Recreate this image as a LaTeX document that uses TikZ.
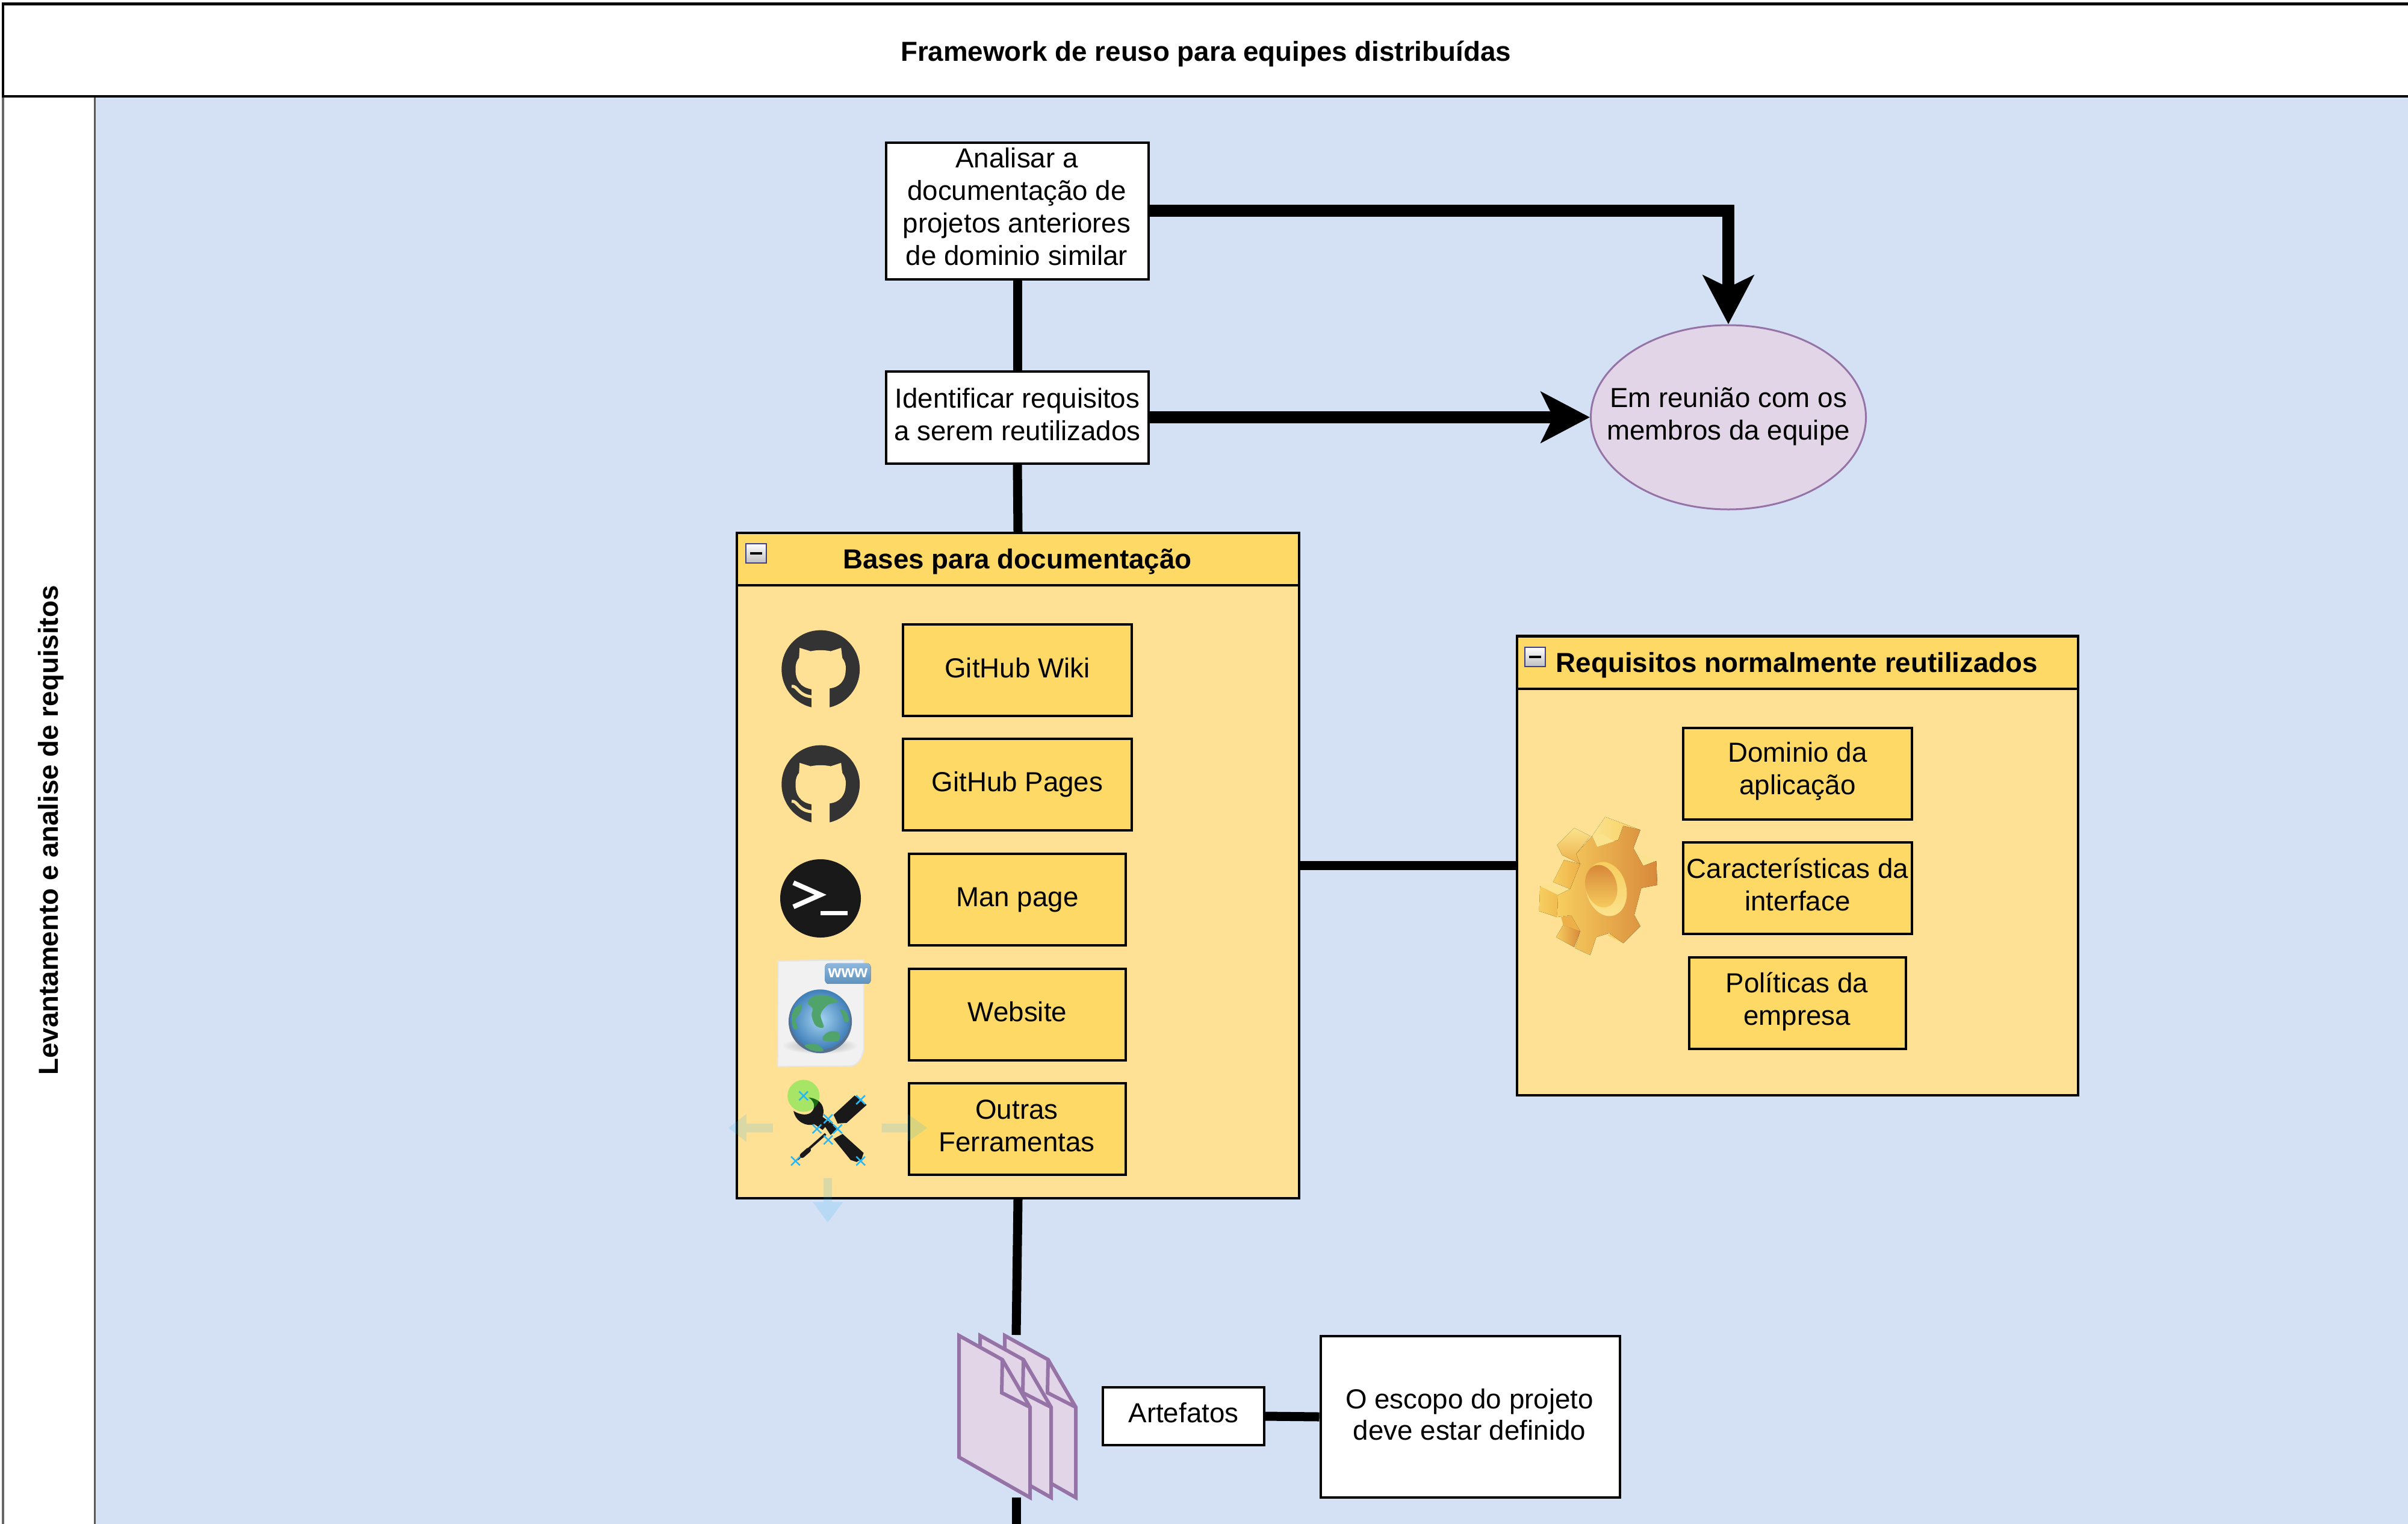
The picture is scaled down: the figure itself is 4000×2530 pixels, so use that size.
\documentclass[tikz,border=0pt]{standalone}
\usepackage{fontspec}
\setmainfont{Liberation Sans}
\usetikzlibrary{arrows.meta,shapes.geometric}
\definecolor{lanebg}{HTML}{D4E1F5}
\definecolor{panelbody}{HTML}{FFE196}
\definecolor{panelhead}{HTML}{FFD966}
\definecolor{purplefill}{HTML}{E1D5E7}
\definecolor{purpleline}{HTML}{9673A6}
\definecolor{handleblue}{HTML}{29B6F2}
\definecolor{rotgreen}{RGB}{26,237,26}
\definecolor{octo}{HTML}{333333}
\definecolor{gearlight}{HTML}{FBE38E}
\definecolor{gearmid}{HTML}{F7CE5F}
\definecolor{geardeep}{HTML}{EDB048}
\definecolor{geardark}{HTML}{D8893A}
\definecolor{gearring}{HTML}{FBE59C}
\definecolor{globein}{HTML}{A5D4F2}
\definecolor{globeout}{HTML}{3F7FB8}
\definecolor{globerim}{HTML}{56708F}
\definecolor{landgreen}{HTML}{4FA36B}
\definecolor{badgetop}{HTML}{8DB7DC}
\definecolor{badgebot}{HTML}{5E92BE}
\definecolor{pagefill}{HTML}{F1F1F1}
\tikzset{
  x=0.01cm,y=-0.01cm,
  txt/.style={font=\fontsize{13pt}{15.4pt}\selectfont,align=center,inner sep=0pt,text=black},
  boldtxt/.style={font=\fontsize{13pt}{15.4pt}\selectfont\bfseries,align=center,inner sep=0pt,text=black},
  sz/.style n args={2}{minimum width=#1*0.01cm,minimum height=#2*0.01cm},
  whitebox/.style={draw=black,fill=white,line width=0.04cm,inner sep=0pt},
  yellowbox/.style={draw=black,fill=panelhead,line width=0.04cm,inner sep=0pt},
  panelbox/.style={draw=black,fill=panelbody,line width=0.04cm,inner sep=0pt},
  headbox/.style={draw=black,fill=panelhead,line width=0.04cm,inner sep=0pt},
  thickline/.style={draw=black,line width=0.15cm},
  arrowline/.style={draw=black,line width=0.2cm,-{Stealth[length=0.81cm,width=0.84cm,inset=0.2cm]}},
  docpage/.style={fill=purplefill,draw=purpleline,line width=0.06cm,line join=miter},
  handlecross/.style={draw=handleblue,line width=0.025cm},
  ghosthandle/.style={fill=handleblue,opacity=0.17},
  minusicon/.style={draw=black!45!blue!50!gray,top color=white,bottom color=black!25,line width=0.02cm},
  zoomthird/.style={x=0.003333cm,y=-0.003333cm},
}
\begin{document}
\begin{tikzpicture}
\useasboundingbox (0,0) rectangle (4000,2530);
\clip (0,0) rectangle (4000,2530);
\fill[white] (0,0) rectangle (4000,2530);

% lanes
\fill[lanebg] (157,160) rectangle (4100,2600);
\node[draw=black!60,line width=0.03cm,fill=white,sz={152}{2440},inner sep=0pt] (lanehead) at (81,1380) {};
\draw[black!65,line width=0.03cm] (157,160) -- (157,2600);
\node[boldtxt,rotate=90] (lanetext) at (85,1379) {Levantamento e analise de requisitos};
\node[draw=black,fill=white,line width=0.04cm,sz={4100}{153},inner sep=0pt] (titlebar) at (2055,83) {};
\node[boldtxt] (titletext) at (2003,89) {Framework de reuso para equipes distribuídas};

% main nodes
\node[whitebox,sz={436}{227}] (analisar) at (1690,350) {};
\node[txt] (analisartext) at (1689,343) {Analisar a\\documentação de\\projetos anteriores\\de dominio similar};
\node[whitebox,sz={436}{153}] (identificar) at (1690,693) {};
\node[txt] (identificartext) at (1690,688) {Identificar requisitos\\a serem reutilizados};
\node[ellipse,draw=purpleline,fill=purplefill,line width=0.03cm,sz={457}{306},inner sep=0pt] (reuniao) at (2871,693) {};
\node[txt] (reuniaotext) at (2871,692) {Em reunião com os\\membros da equipe};

% panels
\node[panelbox,sz={934}{1105}] (bases) at (1691,1437) {};
\node[headbox,sz={934}{87}] (baseshead) at (1691,928.5) {};
\node[boldtxt] (basesheadtext) at (1690,933) {Bases para documentação};
\node[minusicon,sz={34}{32}] (basesminus) at (1256,919) {};
\draw[black,line width=0.04cm] (1246,919) -- (1266,919);
\node[panelbox,sz={932}{763}] (reqs) at (2986,1437) {};
\node[headbox,sz={932}{87}] (reqshead) at (2986,1100) {};
\node[boldtxt] (reqsheadtext) at (2985,1105) {Requisitos normalmente reutilizados};
\node[minusicon,sz={34}{32}] (reqsminus) at (2550,1091) {};
\draw[black,line width=0.04cm] (2540,1091) -- (2560,1091);

% inner boxes
\tikzset{inbox/.style={yellowbox,txt,draw=black,fill=panelhead,line width=0.04cm}}
\node[inbox,sz={380}{152}] (wiki) at (1690,1113) {\raisebox{0.08cm}{GitHub Wiki}};
\node[inbox,sz={380}{152}] (pages) at (1690,1303) {GitHub Pages};
\node[inbox,sz={360}{152}] (man) at (1690,1494) {Man page};
\node[inbox,sz={360}{152}] (web) at (1690,1685) {\raisebox{0.1cm}{Website}};
\node[inbox,sz={360}{152}] (outras) at (1690,1875) {};
\node[txt] (outrastext) at (1689,1870) {Outras\\Ferramentas};
\node[inbox,sz={380}{152}] (dominio) at (2986,1285) {};
\node[txt] (dominiotext) at (2986,1281) {Dominio da\\aplicação};
\node[inbox,sz={380}{152}] (carac) at (2986,1475) {};
\node[txt] (caractext) at (2986,1469) {Características da\\interface};
\node[inbox,sz={360}{152}] (politicas) at (2986,1666) {};
\node[txt] (politicastext) at (2985,1663) {Políticas da\\empresa};

% artefacts
\node[whitebox,sz={268}{96}] (artefatos) at (1966,2352) {};
\node[txt] (artefatostext) at (1966,2346) {Artefatos};
\node[whitebox,sz={497}{268}] (escopo) at (2442,2353) {};
\node[txt,font=\fontsize{13pt}{14.6pt}\selectfont] (escopotext) at (2441,2349) {O escopo do projeto\\deve estar definido};
\coordinate (docstop) at (1688,2217);
\coordinate (docsbottom) at (1688,2487);
\coordinate (belowpage) at (1688,2545);

% connectors
\draw[thickline] (analisar.south) -- (identificar.north);
\draw[thickline] (identificar.south) -- (baseshead.north);
\draw[thickline] (bases.south) -- (docstop);
\draw[thickline] (docsbottom) -- (belowpage);
\draw[thickline] (bases.east) -- (reqs.west);
\draw[thickline] (artefatos.east) -- (escopo.west);
\draw[arrowline] (analisar.east) -| (reuniao.north);
\draw[arrowline] (identificar.east) -- (reuniao.west);

% stacked documents
\foreach \dx in {76,35,0}{
  \begin{scope}[xshift=\dx*0.01cm]
    \draw[docpage] (1593,2218) -- (1665,2258) -- (1711,2337) -- (1711,2487) -- (1593,2420) -- cycle;
    \draw[docpage,fill=none] (1665,2258) -- (1664,2313) -- (1711,2337);
  \end{scope}
}

% GitHub icons
\foreach \iy/\nm in {1030/a,1221/b}{
  \begin{scope}[shift={(1280,\iy)},zoomthird]
    \fill[octo] (250,245) circle (195);
    \fill[panelbody] (205,450) -- (205,345) .. controls (150,335) and (122,300) .. (125,240)
      .. controls (125,215) and (132,200) .. (142,188) -- (145,138) -- (200,155) .. controls (230,148) and (270,148) .. (300,155)
      -- (352,138) -- (358,188) .. controls (370,205) and (377,220) .. (375,245)
      .. controls (375,300) and (345,335) .. (295,340) -- (295,450) -- cycle;
    \draw[panelbody,line width=0.05cm] (105,330) .. controls (135,325) and (135,375) .. (205,382);
  \end{scope}
}

% terminal icon
\fill[black!90] (1363,1492) ellipse (67 and 65);
\draw[white,line width=0.08cm,line join=miter] (1318,1466) -- (1363,1486) -- (1318,1506);
\draw[white,line width=0.07cm] (1363,1516) -- (1408,1516);

% website icon
\begin{scope}[shift={(1280,1580)},zoomthird]
  \filldraw[fill=pagefill,draw=black!10,line width=0.02cm] (38,48) -- (465,42) -- (465,490) .. controls (455,540) and (430,570) .. (400,572) -- (35,575) -- cycle;
  \shade[inner color=black!35,outer color=pagefill] (248,470) ellipse (190 and 42);
  \fill[globerim] (248,350) circle (158);
  \shade[inner color=globein,outer color=globeout] (248,340) circle (150);
  \begin{scope}
    \clip (248,350) circle (150);
    \fill[landgreen] plot[smooth cycle,tension=0.6] coordinates {(185,255) (220,222) (285,222) (335,250) (285,268) (250,315) (265,378) (225,370) (205,320) (210,285)};
    \fill[landgreen] plot[smooth cycle,tension=0.6] coordinates {(155,265) (120,285) (105,330) (115,385) (135,380) (125,340) (150,300)};
    \fill[landgreen] plot[smooth cycle,tension=0.6] coordinates {(345,290) (375,300) (392,345) (370,350) (355,310)};
    \fill[landgreen] plot[smooth cycle,tension=0.6] coordinates {(262,425) (295,400) (340,405) (340,445) (300,447) (265,445)};
    \fill[landgreen] plot[smooth cycle,tension=0.6] coordinates {(170,470) (225,462) (265,495) (215,498)};
  \end{scope}
  \fill[rounded corners=0.06cm,top color=badgetop,bottom color=badgebot] (272,60) rectangle (500,162);
  \node[font=\fontsize{8pt}{8pt}\selectfont\bfseries,text=white,inner sep=0pt] (wwwtext) at (386,108) {www};
\end{scope}

% tools icon (with its selection handles as in the picture)
\begin{scope}[shift={(1200,1780)},zoomthird]
  \fill[black!90] (355,195) .. controls (365,250) and (420,275) .. (460,262) -- (500,290) -- (535,250) -- (500,225)
     .. controls (515,180) and (495,135) .. (430,128) .. controls (465,150) and (465,185) .. (440,205)
     .. controls (420,218) and (385,215) .. (355,195) -- cycle;
  \fill[black!90] (510,270) -- (540,250) -- (575,285) -- (540,315) -- cycle;
  \fill[black!90] (555,335) -- (600,310) -- (705,405) -- (695,435) -- (670,450) -- (640,440) -- cycle;
  \fill[black!90] (555,215) -- (660,118) -- (720,165) -- (620,255) -- (575,258) -- cycle;
  \draw[black!90,line width=0.04cm] (515,310) -- (425,390);
  \draw[black!90,line width=0.08cm,line cap=round] (430,390) -- (398,418);
  \draw[black!90,line width=0.02cm] (398,418) -- (375,440);
  \fill[rotgreen,opacity=0.38] (405,120) circle (80);
  \foreach \hx/\hy in {405/120,690/140,528/235,472/285,575/285,528/340,365/445,690/445}{
    \draw[handlecross] (\hx-22,\hy-22) -- (\hx+22,\hy+22) (\hx+22,\hy-22) -- (\hx-22,\hy+22);
  }
  \fill[ghosthandle] (30,280) -- (120,210) -- (120,258) -- (252,258) -- (252,302) -- (120,302) -- (120,350) -- cycle;
  \fill[ghosthandle] (1022,280) -- (925,210) -- (925,258) -- (795,258) -- (795,302) -- (925,302) -- (925,350) -- cycle;
  \fill[ghosthandle] (525,752) -- (452,650) -- (505,650) -- (505,530) -- (547,530) -- (547,650) -- (602,650) -- cycle;
\end{scope}

% gear icon
\begin{scope}[shift={(2530,1340)},zoomthird]
  \fill[left color=gearlight,right color=gearmid] (410,50) -- (585,115) -- (550,205) -- (475,165) -- (370,200) -- (345,145) -- cycle;
  \fill[top color=gearlight,bottom color=geardeep] (255,105) -- (335,145) -- (265,235) -- (285,285) -- (195,240) -- (170,190) -- cycle;
  \fill[left color=gearmid,right color=geardeep] (205,265) -- (285,285) -- (235,410) -- (150,375) -- cycle;
  \fill[left color=gearmid,right color=geardeep] (85,395) -- (235,420) -- (175,470) -- (170,550) -- (80,520) -- cycle;
  \fill[gearlight] (105,385) -- (235,415) -- (175,440) -- (85,395) -- cycle;
  \fill[left color=gearmid,right color=geardark] (200,590) -- (285,620) -- (255,700) -- (165,650) -- cycle;
  \fill[geardeep] (190,550) -- (240,540) -- (285,620) -- (200,590) -- cycle;
  \fill[gearlight] (575,230) -- (665,270) -- (600,295) -- cycle;
  \fill[gearmid] (420,640) -- (470,625) -- (500,680) -- cycle;
  \fill[left color=gearmid,right color=geardark] (345,145) -- (370,200) -- (475,165) -- (500,95) -- (585,115) -- (550,205) -- (600,295) -- (665,270) -- (670,390) -- (590,405) -- (555,540) -- (585,595) -- (500,680) -- (430,630) -- (365,650) -- (335,740) -- (260,705) -- (285,620) -- (240,540) -- (170,550) -- (175,440) -- (235,410) -- (285,285) -- (265,235) -- cycle;
  \fill[gearlight] (345,145) -- (370,200) -- (455,172) -- (395,135) -- cycle;
  \shade[top color=gearmid,bottom color=gearlight,rotate around={15:(415,410)}] (415,410) ellipse (100 and 137);
  \shade[top color=geardark,bottom color=gearmid,rotate around={15:(390,396)}] (390,396) ellipse (78 and 108);
\end{scope}
\end{tikzpicture}
\end{document}
